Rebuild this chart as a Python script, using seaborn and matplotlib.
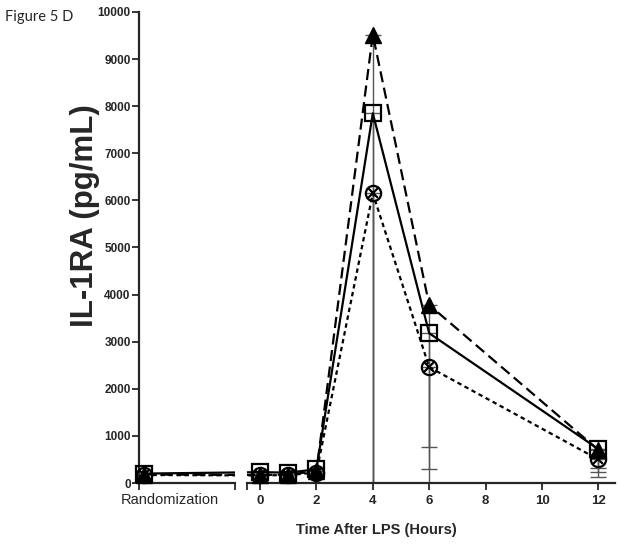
import numpy as np
import pandas as pd
import matplotlib
matplotlib.use("Agg")
import matplotlib.pyplot as plt
import seaborn as sns

# -------------------------
# === Data ================
# -------------------------

# randomization is drawn left of the break, at an offset in "hour" units
RAND_X = -4.1
hours = [0, 1, 2, 4, 6, 12]

tri_rand = 180
tri_vals = [170, 180, 250, 9520, 3780, 700]
tri_err = [0, 0, 0, 10500, 3490, 470]

sq_rand = 200
sq_vals = [230, 220, 290, 7850, 3180, 720]
sq_err = [0, 0, 0, 9000, 2420, 410]

cx_rand = 170
cx_vals = [160, 170, 220, 6150, 2460, 500]
cx_err = [0, 0, 0, 7000, 2600, 365]

x_ticks = [0, 2, 4, 6, 8, 10, 12]
y_ticks = list(range(0, 10001, 1000))

series = [
    ("tri", tri_rand, tri_vals, tri_err, (0, (5, 2.5))),
    ("sq", sq_rand, sq_vals, sq_err, "-"),
    ("cx", cx_rand, cx_vals, cx_err, (0, (2, 1.6))),
]

# -------------------------
# === Plot ================
# -------------------------

sns.set_style("ticks")
plt.rcParams["font.family"] = ["Liberation Sans", "DejaVu Sans"]

fig = plt.figure(figsize=(6.19, 5.49), dpi=100)
W, H = 619.0, 549.0
px_per_hr = 28.2
x0_px = 260.0  # pixel of hour 0


def px2hr(p):
    return (p - x0_px) / px_per_hr


y_bot, y_top = 483.0, 12.0
ax_l = fig.add_axes([139 / W, 1 - y_bot / H, (235 - 139) / W, (y_bot - y_top) / H])
ax_r = fig.add_axes([247 / W, 1 - y_bot / H, (615 - 247) / W, (y_bot - y_top) / H])

for ax in (ax_l, ax_r):
    for name, r, vals, err, ls in series:
        df = pd.DataFrame({"x": [RAND_X] + hours, "y": [r] + vals})
        sns.lineplot(data=df, x="x", y="y", ax=ax, color="black", lw=1.6,
                     linestyle=ls, estimator=None, sort=False, legend=False)
    ax.set_ylim(0, 10000)
    ax.set_xlabel("")
    ax.set_ylabel("")
    for s in ("top", "right"):
        ax.spines[s].set_visible(False)
    ax.spines["bottom"].set_linewidth(1.6)
    ax.tick_params(axis="both", width=1.3, length=5, direction="out")

ax_l.set_xlim(px2hr(139), px2hr(235))
ax_r.set_xlim(px2hr(247), px2hr(615))

# error bars (lower only)
for name, r, vals, err, ls in series:
    ax_r.errorbar(hours, vals, yerr=[err, [0] * len(err)], fmt="none",
                  ecolor="#555555", elinewidth=1.0, capsize=5.5, capthick=1.0,
                  zorder=1)


def draw_markers(ax, xs, tv, sv, cv):
    ax.plot(xs, tv, linestyle="none", marker="^", ms=11.5, color="black",
            clip_on=False, zorder=5)
    ax.plot(xs, sv, linestyle="none", marker="s", ms=11.5, mfc="none",
            mec="black", mew=1.6, clip_on=False, zorder=5)
    ax.plot(xs, cv, linestyle="none", marker="o", ms=11, mfc="none",
            mec="black", mew=1.6, clip_on=False, zorder=6)
    ax.plot(xs, cv, linestyle="none", marker="x", ms=7, color="black",
            mew=1.6, clip_on=False, zorder=6)


draw_markers(ax_l, [RAND_X], [tri_rand], [sq_rand], [cx_rand])
draw_markers(ax_r, hours, tri_vals, sq_vals, cx_vals)

# left segment: y axis and "Randomization" label
ax_l.spines["left"].set_linewidth(1.6)
ax_l.set_yticks(y_ticks)
ax_l.set_yticklabels([str(v) for v in y_ticks], fontsize=8.5, fontweight="bold")
ax_l.tick_params(axis="y", pad=1)
ax_l.set_xticks([px2hr(139), px2hr(235)])
ax_l.set_xticklabels(["", ""])
ax_l.set_xticks([px2hr(170)], minor=True)
ax_l.set_xticklabels(["Randomization"], minor=True, fontsize=10.5)
ax_l.tick_params(axis="x", which="minor", length=0, pad=7)

# right segment
ax_r.spines["left"].set_visible(False)
ax_r.set_yticks([])
ax_r.set_xticks(x_ticks)
ax_r.set_xticklabels([str(v) for v in x_ticks], fontsize=9.5, fontweight="bold")
ax_r.set_xticks([px2hr(247)], minor=True)
ax_r.tick_params(axis="x", which="minor", length=5, width=1.3)
ax_r.tick_params(axis="x", pad=4)

fig.text(376 / W, 1 - 530 / H, "Time After LPS (Hours)", ha="center",
         va="center", fontsize=10.5, fontweight="bold")
fig.text(85 / W, 1 - 216 / H, "IL-1RA (pg/mL)", ha="center", va="center",
         rotation=90, fontsize=22.5, fontweight="bold")
fig.text(5 / W, 1 - 17 / H, "Figure 5 D", ha="left", va="center",
         fontsize=10.5, family=["Lato", "DejaVu Sans"])

fig.savefig("out.png", dpi=100)
